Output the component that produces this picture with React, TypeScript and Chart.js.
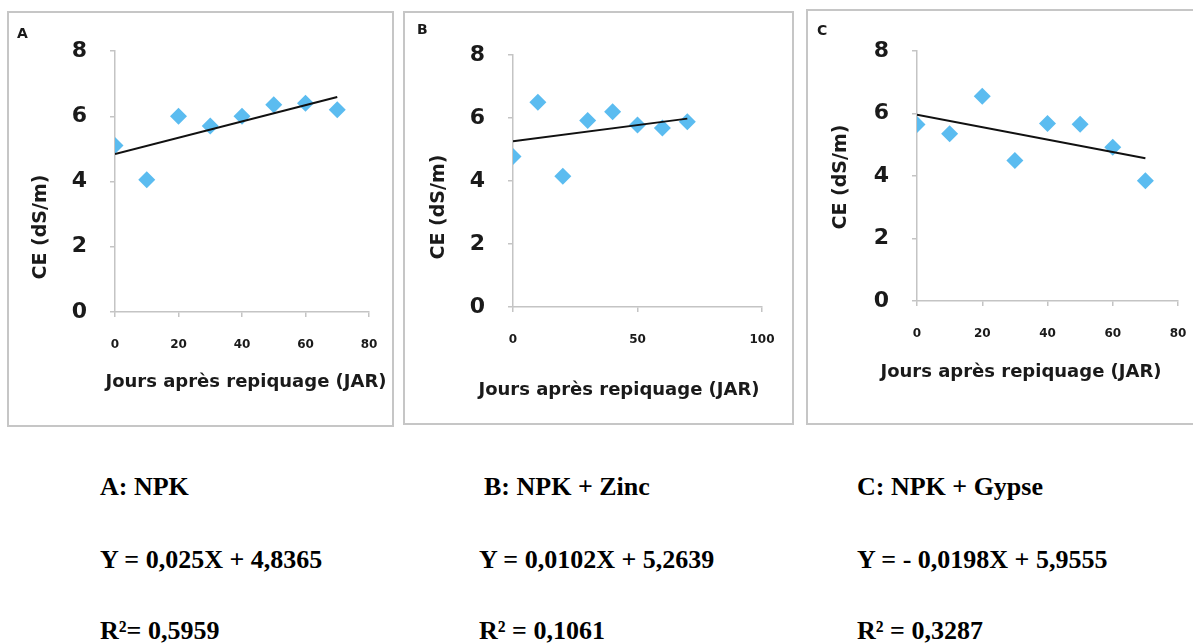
import React, { useEffect, useRef } from "react";
import { Chart, registerables } from "chart.js";

Chart.register(...registerables);

// ---------- DATA ----------
const daysA = [0, 10, 20, 30, 40, 50, 60, 70];
const ceA = [5.1, 4.05, 6.0, 5.7, 6.0, 6.35, 6.4, 6.2];
const trendXA = [0, 70];
const trendYA = [4.84, 6.59];

const daysB = [0, 10, 20, 30, 40, 50, 60, 70];
const ceB = [4.78, 6.5, 4.15, 5.92, 6.2, 5.78, 5.68, 5.88];
const trendXB = [0, 70];
const trendYB = [5.26, 5.98];

const daysC = [0, 10, 20, 30, 40, 50, 60, 70];
const ceC = [5.65, 5.35, 6.55, 4.5, 5.68, 5.66, 4.92, 3.85];
const trendXC = [0, 70];
const trendYC = [5.96, 4.57];

const yTickValues = [0, 2, 4, 6, 8];
const xTicksA = [0, 20, 40, 60, 80];
const xTicksB = [0, 50, 100];
const xTicksC = [0, 20, 40, 60, 80];

const yTitle = "CE (dS/m)";
const xTitle = "Jours après repiquage (JAR)";
const panelLetters = ["A", "B", "C"];

const captionNames = ["A: NPK", "B: NPK + Zinc", "C: NPK + Gypse"];
const captionEquations = ["Y = 0,025X + 4,8365", "Y = 0,0102X + 5,2639", "Y = - 0,0198X + 5,9555"];
const captionR2 = ["R²= 0,5959", "R² = 0,1061", "R² = 0,3287"];

// ---------- STYLE ----------
const SANS = "'DejaVu Sans', sans-serif";
const MARKER = "#5bbcf0";
const AXIS = "#c4c4c4";
const TEXT = "#1a1a1a";

const panelTextPlugin = {
  id: "panelText",
  afterDraw(chart: any, _args: any, opts: any) {
    const ctx = chart.ctx;
    for (const it of opts.items || []) {
      ctx.save();
      ctx.font = it.font;
      ctx.fillStyle = TEXT;
      ctx.textAlign = it.align || "left";
      ctx.textBaseline = it.baseline || "alphabetic";
      ctx.translate(it.x, it.y);
      if (it.rotate) ctx.rotate(it.rotate);
      ctx.fillText(it.text, 0, 0);
      ctx.restore();
    }
  },
};

type PanelCfg = {
  left: number;
  top: number;
  w: number;
  h: number;
  pad: { left: number; right: number; top: number; bottom: number };
  xs: number[];
  ys: number[];
  tx: number[];
  ty: number[];
  xTicks: number[];
  letter: string;
  letterPos: [number, number];
  yTitlePos: [number, number];
  xTitlePos: [number, number];
};

function Panel({ cfg }: { cfg: PanelCfg }) {
  const ref = useRef<HTMLCanvasElement | null>(null);
  useEffect(() => {
    if (!ref.current) return;
    const xMin = cfg.xTicks[0];
    const xMax = cfg.xTicks[cfg.xTicks.length - 1];
    const xStep = cfg.xTicks[1] - cfg.xTicks[0];
    const yAxisWidth = cfg.pad.left;
    const xAxisHeight = cfg.pad.bottom;
    const chart = new Chart(ref.current, {
      type: "scatter",
      data: {
        datasets: [
          {
            type: "line",
            data: cfg.tx.map((x, i) => ({ x, y: cfg.ty[i] })),
            borderColor: "#111111",
            borderWidth: 2,
            pointRadius: 0,
            showLine: true,
            fill: false,
          } as any,
          {
            type: "scatter",
            data: cfg.xs.map((x, i) => ({ x, y: cfg.ys[i] })),
            pointStyle: "rectRot",
            pointRadius: 8.5,
            backgroundColor: MARKER,
            borderColor: MARKER,
            borderWidth: 0,
          } as any,
        ],
      },
      options: {
        animation: false,
        responsive: false,
        devicePixelRatio: 1,
        layout: { padding: { left: 0, bottom: 0, top: cfg.pad.top, right: cfg.pad.right } },
        plugins: {
          legend: { display: false },
          tooltip: { enabled: false },
          title: { display: false },
          panelText: {
            items: [
              { text: cfg.letter, x: cfg.letterPos[0], y: cfg.letterPos[1], font: `bold 14px ${SANS}` },
              {
                text: yTitle,
                x: cfg.yTitlePos[0],
                y: cfg.yTitlePos[1],
                font: `bold 19px ${SANS}`,
                align: "center",
                baseline: "middle",
                rotate: -Math.PI / 2,
              },
              {
                text: xTitle,
                x: cfg.xTitlePos[0],
                y: cfg.xTitlePos[1],
                font: `bold 18px ${SANS}`,
                align: "center",
              },
            ],
          },
        } as any,
        scales: {
          x: {
            type: "linear",
            min: xMin,
            max: xMax,
            afterBuildTicks: (s: any) => {
              s.ticks = cfg.xTicks.map((v) => ({ value: v }));
            },
            ticks: {
              stepSize: xStep,
              color: TEXT,
              font: { family: SANS, weight: "bold", size: 12 },
              padding: 21,
              maxRotation: 0,
              autoSkip: false,
            },
            grid: { display: true, drawOnChartArea: false, drawTicks: true, tickLength: 5, color: AXIS, lineWidth: 1.5 },
            border: { display: true, color: AXIS, width: 1.5 },
            afterFit: (s: any) => {
              s.height = xAxisHeight;
              s.paddingLeft = 0;
              s.paddingRight = 0;
            },
          },
          y: {
            type: "linear",
            min: yTickValues[0],
            max: yTickValues[yTickValues.length - 1],
            afterBuildTicks: (s: any) => {
              s.ticks = yTickValues.map((v) => ({ value: v }));
            },
            ticks: {
              color: TEXT,
              font: { family: SANS, weight: "bold", size: 22 },
              padding: 23,
              autoSkip: false,
            },
            grid: { display: true, drawOnChartArea: false, drawTicks: true, tickLength: 5, color: AXIS, lineWidth: 1.5 },
            border: { display: true, color: AXIS, width: 1.5 },
            afterFit: (s: any) => {
              s.width = yAxisWidth;
              s.paddingTop = 0;
              s.paddingBottom = 0;
            },
          },
        },
      },
      plugins: [panelTextPlugin],
    } as any);
    return () => chart.destroy();
  }, [cfg]);
  return (
    <canvas
      ref={ref}
      width={cfg.w}
      height={cfg.h}
      style={{ position: "absolute", left: cfg.left, top: cfg.top, width: cfg.w, height: cfg.h }}
    />
  );
}

const panels: PanelCfg[] = [
  {
    left: 9,
    top: 13,
    w: 383,
    h: 412,
    pad: { left: 106, right: 23, top: 38, bottom: 113 },
    xs: daysA,
    ys: ceA,
    tx: trendXA,
    ty: trendYA,
    xTicks: xTicksA,
    letter: panelLetters[0],
    letterPos: [8, 25],
    yTitlePos: [32, 214],
    xTitlePos: [237, 374],
  },
  {
    left: 405,
    top: 13,
    w: 387,
    h: 410,
    pad: { left: 108, right: 30, top: 42, bottom: 116 },
    xs: daysB,
    ys: ceB,
    tx: trendXB,
    ty: trendYB,
    xTicks: xTicksB,
    letter: panelLetters[1],
    letterPos: [12, 21],
    yTitlePos: [34, 194],
    xTitlePos: [214, 382],
  },
  {
    left: 808,
    top: 11,
    w: 391,
    h: 412,
    pad: { left: 109, right: 21, top: 40, bottom: 122 },
    xs: daysC,
    ys: ceC,
    tx: trendXC,
    ty: trendYC,
    xTicks: xTicksC,
    letter: panelLetters[2],
    letterPos: [9, 24],
    yTitlePos: [33, 166],
    xTitlePos: [213, 366],
  },
];

const boxes = [
  { left: 7, top: 11, width: 387, height: 416 },
  { left: 403, top: 11, width: 391, height: 414 },
  { left: 806, top: 9, width: 400, height: 416 },
];

const captionCols = [100, 484, 857];
const captionTops = [472, 545, 616];

export default function App() {
  return (
    <div
      style={{
        position: "fixed",
        left: 0,
        top: 0,
        width: 1193,
        height: 644,
        overflow: "hidden",
        background: "#ffffff",
      }}
    >
      {boxes.map((b, i) => (
        <div
          key={"b" + i}
          style={{
            position: "absolute",
            left: b.left,
            top: b.top,
            width: b.width,
            height: b.height,
            border: "2px solid #c6c6c6",
            boxSizing: "border-box",
          }}
        />
      ))}
      {panels.map((p, i) => (
        <Panel key={"p" + i} cfg={p} />
      ))}
      {captionCols.map((x, i) =>
        [captionNames[i], captionEquations[i], captionR2[i]].map((t, j) => (
          <div
            key={"c" + i + "-" + j}
            style={{
              position: "absolute",
              left: j > 0 && i === 1 ? x - 5 : x,
              top: captionTops[j],
              fontFamily: "'Liberation Serif', 'Times New Roman', serif",
              fontWeight: "bold",
              fontSize: 26,
              lineHeight: "30px",
              color: "#000",
              whiteSpace: "pre",
            }}
          >
            {t}
          </div>
        ))
      )}
    </div>
  );
}
